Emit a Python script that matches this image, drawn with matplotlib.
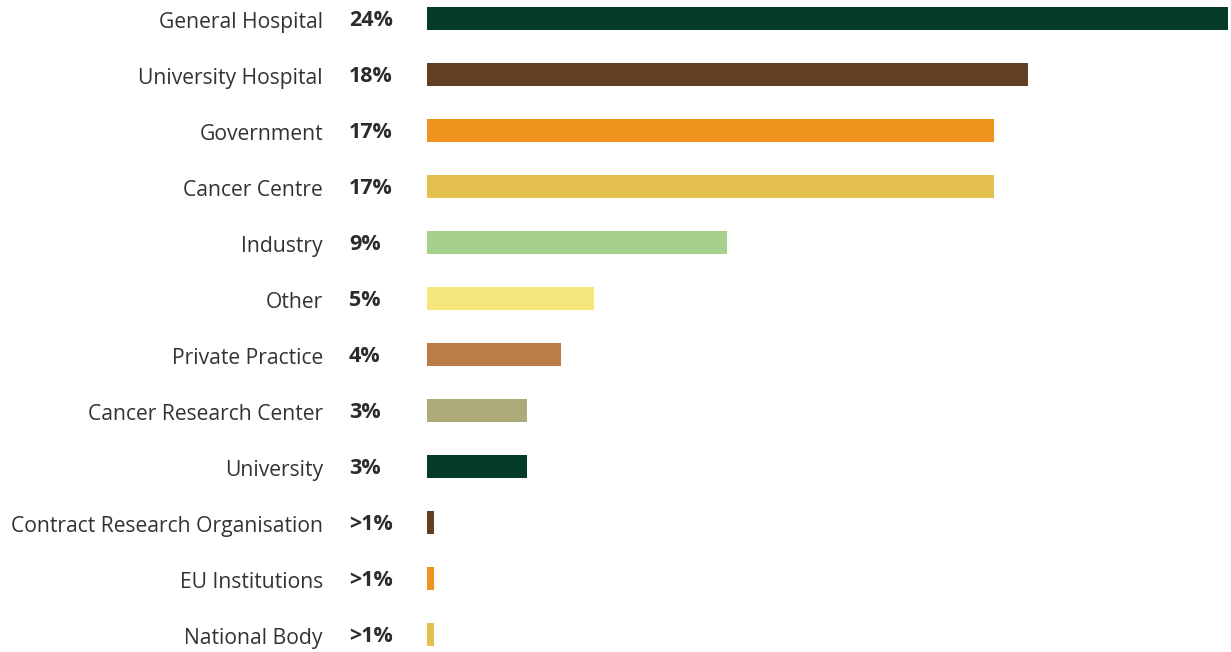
import matplotlib.pyplot as plt
from matplotlib.transforms import blended_transform_factory

# ---- data ----
categories = ["General Hospital", "University Hospital", "Government", "Cancer Centre",
              "Industry", "Other", "Private Practice", "Cancer Research Center",
              "University", "Contract Research Organisation", "EU Institutions",
              "National Body"]
values = [24, 18, 17, 17, 9, 5, 4, 3, 3, 0.2, 0.2, 0.2]
value_labels = ["24%", "18%", "17%", "17%", "9%", "5%", "4%", "3%", "3%",
                ">1%", ">1%", ">1%"]

palette = ["#033A28", "#623F22", "#EE921E", "#E3C04D",
           "#A8D08D", "#F5E77C", "#BC7C48", "#ADAA7A"]
colors = [palette[i % len(palette)] for i in range(len(categories))]

W, H = 1231, 652
fig = plt.figure(figsize=(W / 100, H / 100), dpi=100)
ax = fig.add_axes([427 / W, 0, 801 / W, 1])

ys = list(range(len(categories)))
ax.barh(ys, values, height=23 / 56, color=colors, align="center")
ax.set_xlim(0, 24)
ax.set_ylim((H - 18.5) / 56, -18.5 / 56)
ax.axis("off")

# labels sit a touch below the bar centre, as in the source
tr = blended_transform_factory(fig.transFigure, ax.transData)
for y, name, lab in zip(ys, categories, value_labels):
    fig.text(323 / W, y + 0.07, name, transform=tr, ha="right", va="center",
             fontsize=15.2, color="#333333", family="Open Sans")
    fig.text(349 / W, y + 0.04, lab, transform=tr, ha="left", va="center",
             fontsize=15.5, color="#2b2b2b", fontweight="bold", family="Open Sans")

fig.savefig("out.png", dpi=100)
